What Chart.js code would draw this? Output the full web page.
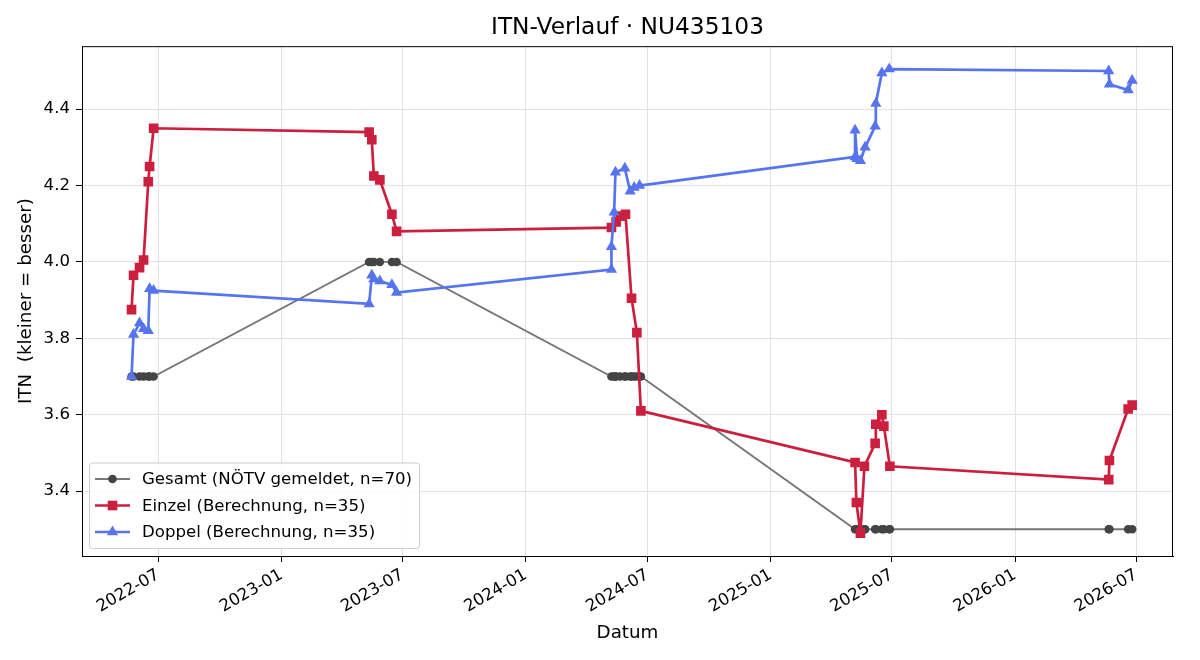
<!DOCTYPE html>
<html>
<head>
<meta charset="utf-8">
<script src="https://cdn.jsdelivr.net/npm/chart.js@4.4.1/dist/chart.umd.min.js"></script>
<style>
  html, body { margin: 0; padding: 0; background: #fff; }
  canvas { display: block; }
</style>
</head>
<body>
<canvas id="itnChart" width="1200" height="660"></canvas>
<script>
// values
const einzelDates = [
  '2022-05-22', '2022-05-25', '2022-06-03', '2022-06-09', '2022-06-16', '2022-06-18', '2022-06-24',
  '2023-05-12', '2023-05-16', '2023-05-19', '2023-05-28', '2023-06-15', '2023-06-22',
  '2024-05-08', '2024-05-15', '2024-05-21', '2024-05-29', '2024-06-07', '2024-06-15', '2024-06-21',
  '2025-05-07', '2025-05-09', '2025-05-15', '2025-05-21', '2025-06-06', '2025-06-07', '2025-06-16', '2025-06-19', '2025-06-28',
  '2026-05-21', '2026-05-22', '2026-06-19', '2026-06-25'
];
const einzelValues = [
  3.875, 3.965, 3.985, 4.005, 4.21, 4.25, 4.35,
  4.34, 4.32, 4.225, 4.215, 4.125, 4.08,
  4.09, 4.105, 4.12, 4.125, 3.905, 3.815, 3.61,
  3.475, 3.37, 3.29, 3.465, 3.525, 3.575, 3.60, 3.57, 3.465,
  3.43, 3.48, 3.615, 3.625
];

const doppelDates = [
  '2022-05-22', '2022-05-25', '2022-06-03', '2022-06-09', '2022-06-16', '2022-06-18', '2022-06-24',
  '2023-05-12', '2023-05-16', '2023-05-19', '2023-05-28', '2023-06-15', '2023-06-22',
  '2024-05-08', '2024-05-08', '2024-05-12', '2024-05-14', '2024-05-28', '2024-06-05', '2024-06-11', '2024-06-19',
  '2025-05-07', '2025-05-07', '2025-05-10', '2025-05-15', '2025-05-22', '2025-06-06', '2025-06-07', '2025-06-16', '2025-06-27',
  '2026-05-21', '2026-05-22', '2026-06-19', '2026-06-25'
];
const doppelValues = [
  3.70, 3.81, 3.84, 3.825, 3.82, 3.93, 3.925,
  3.89, 3.965, 3.955, 3.95, 3.94, 3.92,
  3.98, 4.04, 4.13, 4.235, 4.245, 4.185, 4.195, 4.20,
  4.275, 4.345, 4.27, 4.265, 4.30, 4.355, 4.415, 4.495, 4.505,
  4.50, 4.465, 4.45, 4.475
];

const gesamtDates = [
  '2022-05-22', '2022-05-25', '2022-06-03', '2022-06-09', '2022-06-16', '2022-06-18', '2022-06-24',
  '2023-05-12', '2023-05-16', '2023-05-19', '2023-05-28', '2023-06-15', '2023-06-22',
  '2024-05-08', '2024-05-12', '2024-05-14', '2024-05-15', '2024-05-21', '2024-05-28', '2024-05-29',
  '2024-06-05', '2024-06-07', '2024-06-11', '2024-06-15', '2024-06-19', '2024-06-21',
  '2025-05-07', '2025-05-09', '2025-05-10', '2025-05-15', '2025-05-21', '2025-05-22',
  '2025-06-06', '2025-06-07', '2025-06-16', '2025-06-19', '2025-06-27', '2025-06-28',
  '2026-05-21', '2026-05-22', '2026-06-19', '2026-06-25'
];
const gesamtValues = [
  3.70, 3.70, 3.70, 3.70, 3.70, 3.70, 3.70,
  4.00, 4.00, 4.00, 4.00, 4.00, 4.00,
  3.70, 3.70, 3.70, 3.70, 3.70, 3.70, 3.70,
  3.70, 3.70, 3.70, 3.70, 3.70, 3.70,
  3.30, 3.30, 3.30, 3.30, 3.30, 3.30,
  3.30, 3.30, 3.30, 3.30, 3.30, 3.30,
  3.30, 3.30, 3.30, 3.30
];

const xTickLabels = ['2022-07', '2023-01', '2023-07', '2024-01', '2024-07', '2025-01', '2025-07', '2026-01', '2026-07'];
const yTickValues = [3.4, 3.6, 3.8, 4.0, 4.2, 4.4];

const FONT = "'DejaVu Sans', sans-serif";
const GREY = '#777777';
const RED = '#cc1f3e';
const BLUE = '#5674f0';

function toPoints(dates, values) {
  return dates.map((d, i) => ({ x: Date.parse(d), y: values[i] }));
}

function pad2(n) { return n < 10 ? '0' + n : '' + n; }

// frame around plot area (all four sides like matplotlib)
const framePlugin = {
  id: 'frame',
  beforeDraw(chart) {
    // center the title over the plot area, not the whole canvas
    if (chart.titleBlock) {
      chart.titleBlock.left = chart.chartArea.left;
      chart.titleBlock.right = chart.chartArea.right;
    }
  },
  afterDraw(chart) {
    const { ctx, chartArea: a } = chart;
    ctx.save();
    ctx.strokeStyle = '#000';
    ctx.lineWidth = 1;
    ctx.strokeRect(a.left + 0.5, a.top + 0.5, a.right - a.left - 1, a.bottom - a.top);
    ctx.restore();
  }
};

function drawMarker(ctx, style, x, y, r) {
  ctx.beginPath();
  if (style === 'circle') {
    ctx.arc(x, y, r, 0, Math.PI * 2);
  } else if (style === 'rect') {
    const s = r * Math.SQRT1_2;
    ctx.rect(x - s, y - s, 2 * s, 2 * s);
  } else {
    ctx.moveTo(x, y - r);
    ctx.lineTo(x + r * 0.866, y + r * 0.5);
    ctx.lineTo(x - r * 0.866, y + r * 0.5);
    ctx.closePath();
  }
  ctx.fill();
}

// legend box in the lower left corner of the plot
const legendPlugin = {
  id: 'boxLegend',
  afterDraw(chart) {
    const { ctx, chartArea: a } = chart;
    const sets = chart.data.datasets;
    ctx.save();
    ctx.font = '16.6px ' + FONT;
    let textW = 0;
    sets.forEach(ds => { textW = Math.max(textW, ctx.measureText(ds.label).width); });
    const rowH = 26.5;
    const w = 53 + textW + 7;
    const h = rowH * sets.length + 6;
    const x0 = a.left + 7;
    const y0 = a.bottom - 8 - h;
    ctx.fillStyle = 'rgba(255,255,255,0.85)';
    ctx.strokeStyle = '#cccccc';
    ctx.lineWidth = 1;
    ctx.beginPath();
    ctx.roundRect(x0 + 0.5, y0 + 0.5, w, h, 3);
    ctx.fill();
    ctx.stroke();
    sets.forEach((ds, i) => {
      const cy = y0 + 16.5 + i * rowH;
      ctx.strokeStyle = ds.borderColor;
      ctx.lineWidth = ds.borderWidth;
      ctx.beginPath();
      ctx.moveTo(x0 + 6, cy);
      ctx.lineTo(x0 + 41, cy);
      ctx.stroke();
      ctx.fillStyle = ds.pointBackgroundColor;
      drawMarker(ctx, ds.pointStyle, x0 + 23.5, cy, ds.pointRadius);
      ctx.fillStyle = '#000';
      ctx.textBaseline = 'middle';
      ctx.fillText(ds.label, x0 + 53, cy + 1);
    });
    ctx.restore();
  }
};

const ctx = document.getElementById('itnChart').getContext('2d');

const chart = new Chart(ctx, {
  type: 'line',
  data: {
    datasets: [
      {
        label: 'Gesamt (NÖTV gemeldet, n=70)',
        data: toPoints(gesamtDates, gesamtValues),
        borderColor: GREY,
        borderWidth: 1.8,
        pointStyle: 'circle',
        pointRadius: 4.3,
        pointBackgroundColor: '#444444',
        pointBorderColor: '#444444',
        pointBorderWidth: 0,
        order: 3
      },
      {
        label: 'Einzel (Berechnung, n=35)',
        data: toPoints(einzelDates, einzelValues),
        borderColor: RED,
        borderWidth: 2.7,
        pointStyle: 'rect',
        pointRadius: 6.8,
        pointBackgroundColor: RED,
        pointBorderColor: RED,
        pointBorderWidth: 0,
        order: 2
      },
      {
        label: 'Doppel (Berechnung, n=35)',
        data: toPoints(doppelDates, doppelValues),
        borderColor: BLUE,
        borderWidth: 2.7,
        pointStyle: 'triangle',
        pointRadius: 6.5,
        pointBackgroundColor: BLUE,
        pointBorderColor: BLUE,
        pointBorderWidth: 0,
        order: 1
      }
    ]
  },
  options: {
    responsive: false,
    animation: false,
    layout: { padding: { left: 0, right: 27, top: 0, bottom: 0 } },
    elements: { line: { tension: 0 } },
    plugins: {
      legend: { display: false },
      tooltip: { enabled: false },
      title: {
        display: true,
        text: 'ITN-Verlauf · NU435103',
        color: '#000',
        font: { family: FONT, size: 23.3, weight: 'normal' },
        padding: { top: 14, bottom: 4.2 }
      }
    },
    scales: {
      x: {
        type: 'linear',
        min: Date.parse('2022-03-09'),
        max: Date.parse('2026-08-25'),
        afterBuildTicks: scale => {
          scale.ticks = xTickLabels.map(s => ({ value: Date.parse(s + '-01') }));
        },
        afterFit: scale => { scale.height = 104; },
        ticks: {
          autoSkip: false,
          minRotation: 30,
          maxRotation: 30,
          padding: 3,
          color: '#000',
          font: { family: FONT, size: 16.6 },
          callback: v => {
            const d = new Date(v);
            return d.getUTCFullYear() + '-' + pad2(d.getUTCMonth() + 1);
          }
        },
        grid: { color: '#e2e2e2', tickColor: '#000', tickLength: 6, drawTicks: true },
        border: { display: true, color: '#000' },
        title: {
          display: true,
          text: 'Datum',
          color: '#000',
          font: { family: FONT, size: 18.3 },
          padding: { top: 0, bottom: 16 }
        }
      },
      y: {
        min: 3.23,
        max: 4.565,
        afterBuildTicks: scale => {
          scale.ticks = yTickValues.map(v => ({ value: v }));
        },
        afterFit: scale => { scale.width = 82; },
        ticks: {
          padding: 6,
          color: '#000',
          font: { family: FONT, size: 16.6 },
          callback: v => v.toFixed(1)
        },
        grid: { color: '#e2e2e2', tickColor: '#000', tickLength: 6, drawTicks: true },
        border: { display: true, color: '#000' },
        title: {
          display: true,
          text: 'ITN  (kleiner = besser)',
          color: '#000',
          font: { family: FONT, size: 18.3 },
          padding: { top: 15, bottom: 0 }
        }
      }
    }
  },
  plugins: [framePlugin, legendPlugin]
});
</script>
</body>
</html>
